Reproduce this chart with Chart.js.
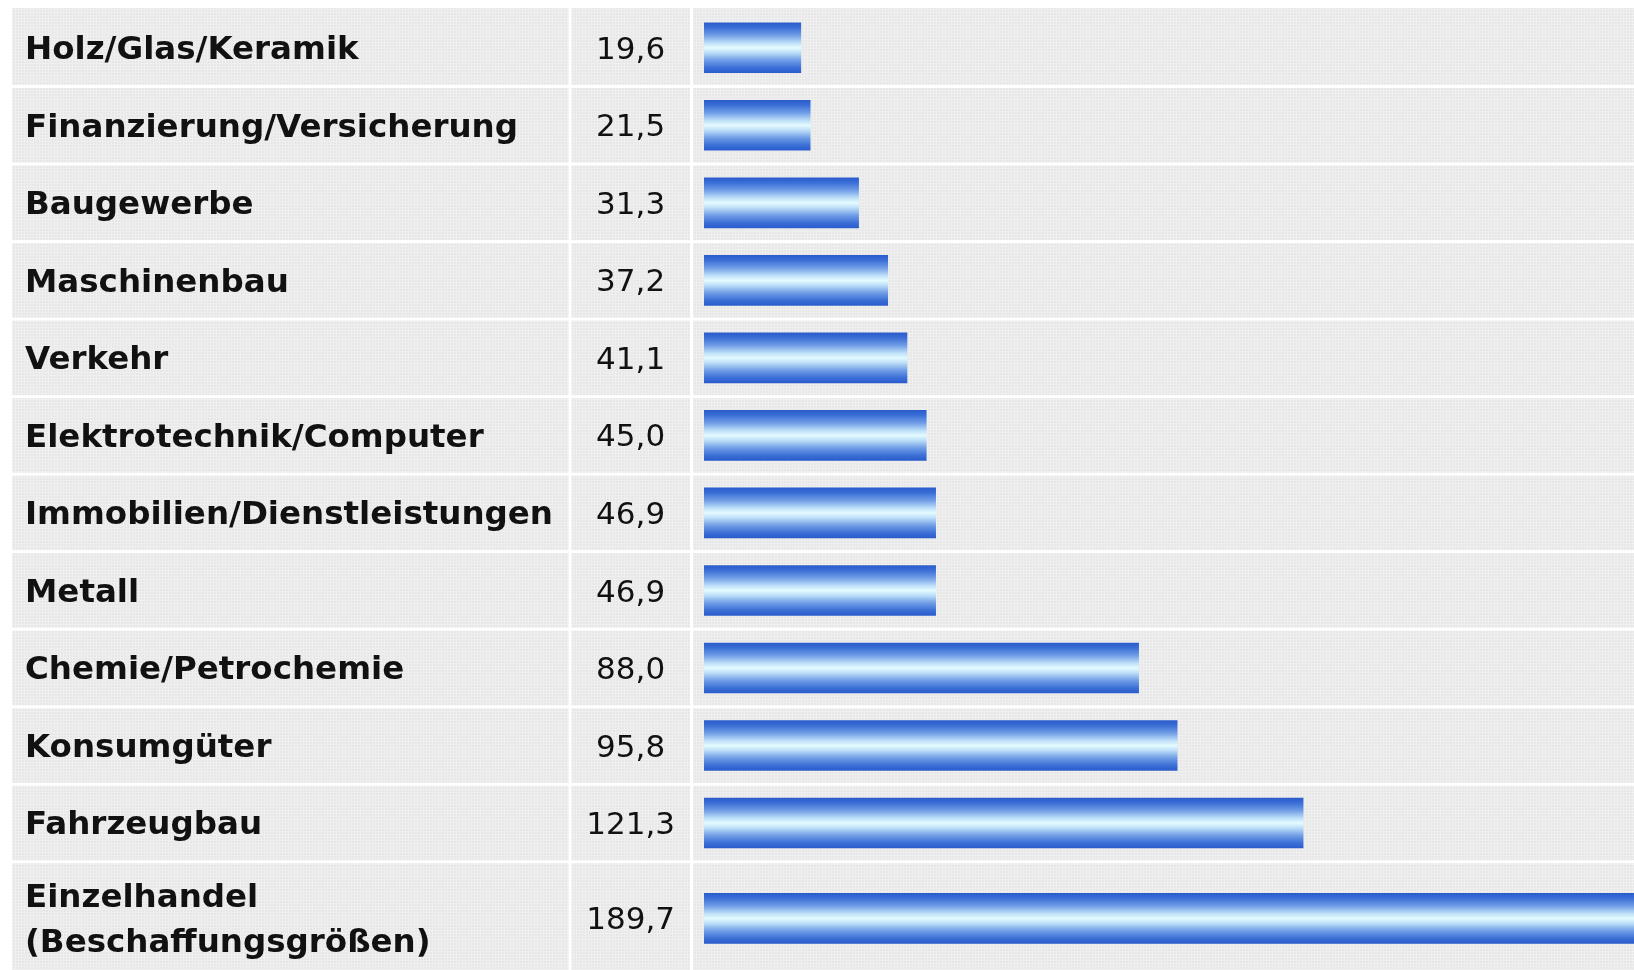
<!DOCTYPE html>
<html><head><meta charset="utf-8">
<script src="https://cdn.jsdelivr.net/npm/chart.js@4.4.1/dist/chart.umd.min.js"></script>
<style>html,body{margin:0;padding:0;background:#fff;overflow:hidden;width:1634px;height:970px}canvas{display:block}</style>
</head><body>
<canvas id="c" width="1634" height="975"></canvas>
<script>
const categories = [
  "Holz/Glas/Keramik",
  "Finanzierung/Versicherung",
  "Baugewerbe",
  "Maschinenbau",
  "Verkehr",
  "Elektrotechnik/Computer",
  "Immobilien/Dienstleistungen",
  "Metall",
  "Chemie/Petrochemie",
  "Konsumgüter",
  "Fahrzeugbau",
  ["Einzelhandel", "(Beschaffungsgrößen)"]
];
const values = [19.6, 21.5, 31.3, 37.2, 41.1, 45.0, 46.9, 46.9, 88.0, 95.8, 121.3, 189.7];
const valueLabels = values.map(v => v.toFixed(1).replace('.', ','));

// row layout derived from the number of label lines
const EXTRA_LINE = 0.46;
const rowHeights = categories.map(c => 1 + (Array.isArray(c) ? c.length - 1 : 0) * EXTRA_LINE);
const rowStarts = [];
let acc = 0;
rowHeights.forEach(h => { rowStarts.push(acc); acc += h; });
const rowCenters = rowStarts.map((s, i) => s + rowHeights[i] / 2);
const totalRows = acc;

function makePattern(ctx) {
  const p = document.createElement('canvas');
  p.width = 3; p.height = 3;
  const pc = p.getContext('2d');
  pc.fillStyle = '#e7e7e7'; pc.fillRect(0, 0, 3, 3);
  pc.fillStyle = '#efefef'; pc.fillRect(0, 0, 3, 1); pc.fillRect(0, 0, 1, 3);
  return ctx.createPattern(p, 'repeat');
}

const cellBackground = {
  id: 'cellBackground',
  beforeDraw(chart) {
    const c = chart.ctx;
    const ys = chart.scales.y, yv = chart.scales.yv, ca = chart.chartArea;
    c.save();
    c.fillStyle = '#ffffff';
    c.fillRect(0, 0, chart.width, chart.height);
    c.fillStyle = makePattern(c);
    const cols = [[ys.left - 13, ys.right - 1.5], [yv.left + 1.5, yv.right - 14], [ca.left - 11, chart.width]];
    rowStarts.forEach((s, i) => {
      const top = ys.getPixelForValue(s) + (i === 0 ? -1 : 1.5);
      const bot = ys.getPixelForValue(s + rowHeights[i]) - 1.5;
      cols.forEach(([l, r]) => c.fillRect(l, top, r - l, bot - top));
    });
    c.restore();
  }
};

function barGradient(ctx) {
  const chart = ctx.chart;
  const ys = chart.scales.y;
  if (ctx.type !== 'data' || !ys) return '#4a7bd9';
  const yc = ys.getPixelForValue(rowCenters[ctx.dataIndex]);
  if (!isFinite(yc)) return '#4a7bd9';
  const g = chart.ctx.createLinearGradient(0, yc - 25, 0, yc + 25);
  g.addColorStop(0, '#2a5ccc');
  g.addColorStop(0.1, '#3b6fd6');
  g.addColorStop(0.25, '#709de6');
  g.addColorStop(0.4, '#bcdef8');
  g.addColorStop(0.5, '#e4fbff');
  g.addColorStop(0.6, '#bcdef8');
  g.addColorStop(0.75, '#709de6');
  g.addColorStop(0.9, '#3b6fd6');
  g.addColorStop(1, '#2a5ccc');
  return g;
}

const yBase = {
  type: 'linear', reverse: true, min: 0, max: totalRows, bounds: 'data', position: 'left', offset: false,
  grid: { display: false, drawTicks: false, offset: false }, border: { display: false },
  afterBuildTicks: s => { s.ticks = rowCenters.map(v => ({ value: v })); }
};

const chart = new Chart(document.getElementById('c'), {
  type: 'bar',
  data: {
    datasets: [{
      data: values.map((v, i) => ({ x: v, y: rowCenters[i] })),
      backgroundColor: barGradient,
      borderWidth: 0,
      barThickness: 50,
      xAxisID: 'x', yAxisID: 'y'
    }]
  },
  options: {
    indexAxis: 'y',
    responsive: false,
    animation: false,
    events: [],
    layout: { padding: { left: 25, top: 9, right: 0, bottom: 0 } },
    plugins: { legend: { display: false }, tooltip: { enabled: false } },
    scales: {
      x: { type: 'linear', min: 0, max: 188.3, display: false },
      y: Object.assign({}, yBase, {
        weight: 2,
        afterFit: s => { s.width = 545; s.paddingTop = 0; s.paddingBottom = 0; },
        ticks: { autoSkip: false, crossAlign: 'far', padding: 0, labelOffset: 3, color: '#111',
          font: { family: 'DejaVu Sans', weight: 'bold', size: 32.5, lineHeight: 1.38 },
          callback: (v, i) => categories[i] }
      }),
      yv: Object.assign({}, yBase, {
        weight: 1,
        afterFit: s => { s.width = 134; s.paddingTop = 0; s.paddingBottom = 0; },
        ticks: { autoSkip: false, crossAlign: 'center', padding: 29, labelOffset: 3, color: '#111',
          font: { family: 'DejaVu Sans', size: 31 },
          callback: (v, i) => valueLabels[i] }
      })
    }
  },
  plugins: [cellBackground]
});
chart.update('none');
</script>
</body></html>
